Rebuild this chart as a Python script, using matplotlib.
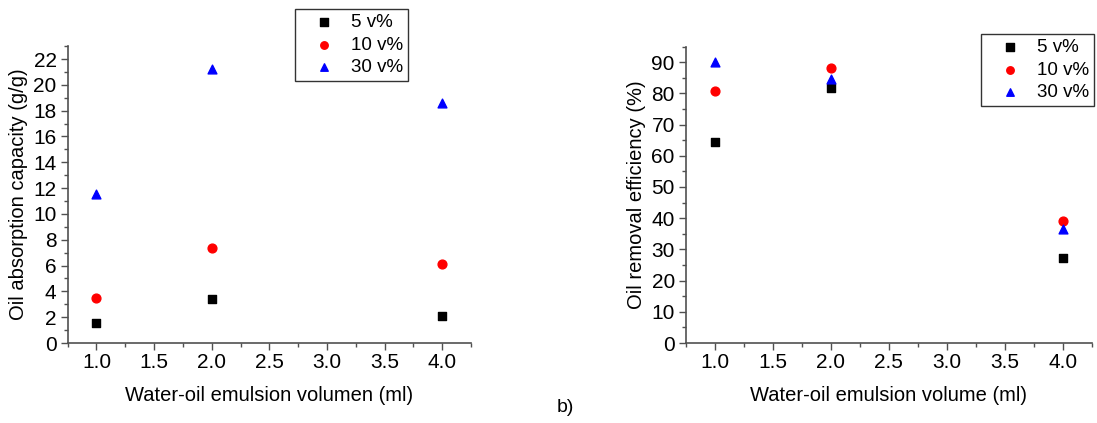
import numpy as np
import matplotlib
matplotlib.use("Agg")
from matplotlib import pyplot as plt
from matplotlib.ticker import MultipleLocator, FormatStrFormatter

plt.rcParams['font.family'] = ['Liberation Sans', 'DejaVu Sans']

# ---- data ----
volume = [1.0, 2.0, 4.0]
series_labels = ["5 v%", "10 v%", "30 v%"]

capacity_5 = [1.52, 3.43, 2.12]
capacity_10 = [3.46, 7.34, 6.10]
capacity_30 = [11.55, 21.24, 18.60]

efficiency_5 = [64.3, 81.7, 27.4]
efficiency_10 = [80.6, 88.2, 39.0]
efficiency_30 = [90.1, 84.7, 36.6]

markers = ["s", "o", "^"]
colors = ["black", "red", "blue"]
axis_color = "#505050"

fig = plt.figure(figsize=(10.97, 4.23), dpi=100)
ax1 = fig.add_axes([0.0617, 0.189, 0.3676, 0.702])
ax2 = fig.add_axes([0.6253, 0.189, 0.3698, 0.701])


def style_axes(ax, ymax, ymajor, yminor, ylabel, xlabel):
    ax.set_xlim(0.75, 4.25)
    ax.set_ylim(0, ymax)
    ax.xaxis.set_minor_locator(MultipleLocator(0.25))
    ax.yaxis.set_major_locator(MultipleLocator(ymajor))
    ax.yaxis.set_minor_locator(MultipleLocator(yminor))
    ax.set_xticks(np.arange(1.0, 4.01, 0.5))
    ax.xaxis.set_major_formatter(FormatStrFormatter("%.1f"))
    for side in ["top", "right"]:
        ax.spines[side].set_visible(False)
    for side in ["left", "bottom"]:
        ax.spines[side].set_color(axis_color)
        ax.spines[side].set_linewidth(1.2)
    ax.tick_params(which="major", direction="out", length=5, width=1.0,
                   color=axis_color, labelsize=15, pad=3)
    ax.tick_params(which="minor", direction="out", length=3, width=1.0,
                   color=axis_color)
    ax.tick_params(axis="x", which="major", pad=2)
    ax.set_ylabel(ylabel, fontsize=14.5, labelpad=4)
    ax.set_xlabel(xlabel, fontsize=14.5, labelpad=10)


cap_series = [capacity_5, capacity_10, capacity_30]
eff_series = [efficiency_5, efficiency_10, efficiency_30]

for vals, lab, m, c in zip(cap_series, series_labels, markers, colors):
    ax1.scatter(volume, vals, marker=m, color=c, s=40, label=lab, clip_on=False, zorder=3)
for vals, lab, m, c in zip(eff_series, series_labels, markers, colors):
    ax2.scatter(volume, vals, marker=m, color=c, s=40, label=lab, clip_on=False, zorder=3)

style_axes(ax1, 23, 2, 1, "Oil absorption capacity (g/g)", "Water-oil emulsion volumen (ml)")
style_axes(ax2, 95, 10, 5, "Oil removal efficiency (%)", "Water-oil emulsion volume (ml)")

# legends sit in figure coordinates (upper-left corners of the boxes)
for ax, corner in [(ax1, (295 / 1097, 1 - 9 / 423)), (ax2, (981 / 1097, 1 - 34 / 423))]:
    leg = ax.legend(loc="upper left", bbox_to_anchor=corner, bbox_transform=fig.transFigure,
                    fontsize=13.5, frameon=True, fancybox=False,
                    borderpad=0.25, labelspacing=0.3, handletextpad=0.15,
                    handlelength=2.6, borderaxespad=0, markerscale=0.85)
    leg.get_frame().set_edgecolor("black")
    leg.get_frame().set_linewidth(1.0)

fig.text(0.515, 0.037, "b)", fontsize=14, ha="center", va="center")

fig.savefig("out.png", dpi=100)
